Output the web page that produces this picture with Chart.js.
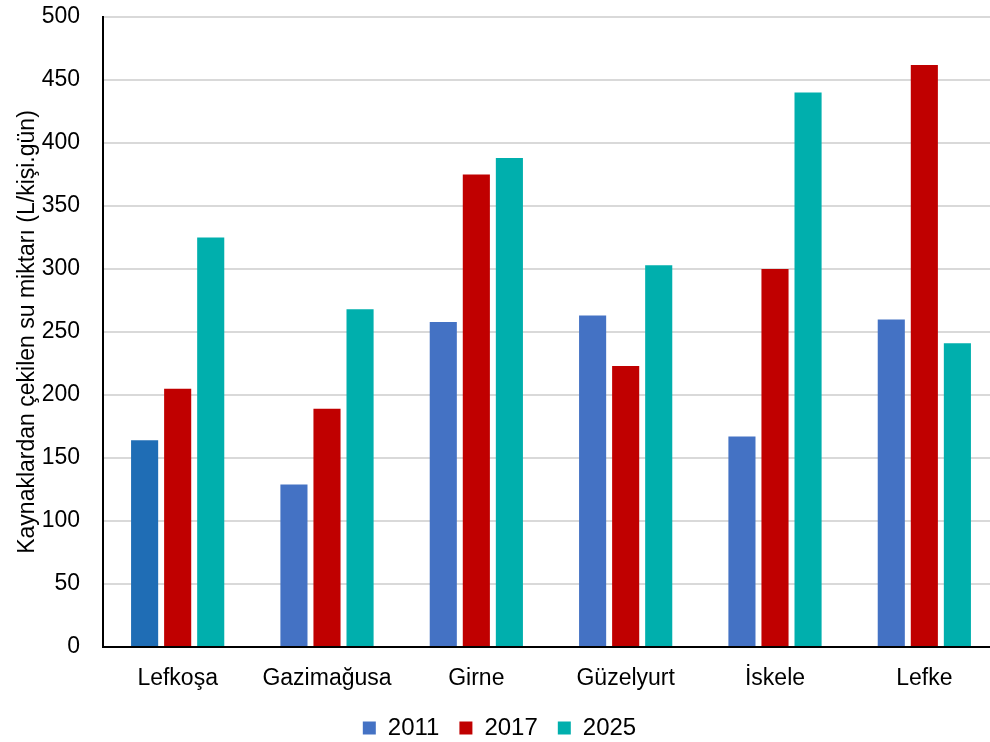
<!DOCTYPE html>
<html>
<head>
<meta charset="utf-8">
<script src="https://cdn.jsdelivr.net/npm/chart.js@4/dist/chart.umd.min.js"></script>
<style>
  html, body { margin: 0; padding: 0; background: #fff; overflow: hidden; }
  #wrap { width: 999px; height: 742px; position: relative; }
</style>
</head>
<body>
<div id="wrap"><canvas id="c"></canvas></div>
<script>
// İlçelere göre kaynaklardan çekilen kişi başı su miktarı
const categories = ['Lefkoşa', 'Gazimağusa', 'Girne', 'Güzelyurt', 'İskele', 'Lefke'];
const values2011 = [164, 129, 258, 263, 167, 260];
const values2017 = [205, 189, 375, 223, 300, 462];
const values2025 = [325, 268, 388, 303, 440, 241];
const yTicks = [0, 50, 100, 150, 200, 250, 300, 350, 400, 450, 500];

const FONT = 'Liberation Sans, Arial, sans-serif';

// 2011 serisinde ilk çubuk daha koyu mavi
const colors2011 = categories.map((_, i) => i === 0 ? '#1F6DB5' : '#4472C4');

new Chart(document.getElementById('c'), {
  type: 'bar',
  data: {
    labels: categories,
    datasets: [
      { label: '2011', data: values2011, backgroundColor: colors2011 },
      { label: '2017', data: values2017, backgroundColor: '#C00000' },
      { label: '2025', data: values2025, backgroundColor: '#00AFAD' }
    ]
  },
  options: {
    responsive: true,
    maintainAspectRatio: false,
    animation: false,
    datasets: {
      bar: { categoryPercentage: 0.664, barPercentage: 0.82 }
    },
    layout: { padding: { top: 17, right: 0, left: 0, bottom: -8 } },
    plugins: {
      tooltip: { enabled: false },
      legend: {
        position: 'bottom',
        labels: {
          color: '#000',
          font: { family: FONT, size: 24 },
          boxWidth: 13,
          boxHeight: 13,
          padding: 20,
          generateLabels: (chart) => chart.data.datasets.map((ds, i) => ({
            text: ds.label,
            fillStyle: i === 0 ? '#4472C4' : ds.backgroundColor,
            strokeStyle: 'rgba(0,0,0,0)',
            lineWidth: 0,
            datasetIndex: i
          }))
        }
      }
    },
    scales: {
      x: {
        grid: { display: false, drawTicks: false },
        border: { display: true, color: '#000', width: 2 },
        ticks: { color: '#000', font: { family: FONT, size: 23 }, padding: 18, maxRotation: 0 },
        afterFit: (s) => { s.height = 49; s.paddingLeft = 0; s.paddingRight = 0; }
      },
      y: {
        min: 0,
        max: 500,
        afterBuildTicks: (s) => { s.ticks = yTicks.map(v => ({ value: v })); },
        grid: { color: '#d9d9d9', lineWidth: 2, drawTicks: false },
        border: { display: true, color: '#000', width: 2 },
        ticks: { color: '#000', font: { family: FONT, size: 23 }, padding: 23 },
        title: {
          display: true,
          text: 'Kaynaklardan çekilen su miktarı (L/kişi.gün)',
          color: '#000',
          font: { family: FONT, size: 23 },
          padding: { top: 14, bottom: 0 }
        },
        afterFit: (s) => { s.width = 103; s.paddingTop = 0; s.paddingBottom = 0; }
      }
    }
  }
});
</script>
</body>
</html>
